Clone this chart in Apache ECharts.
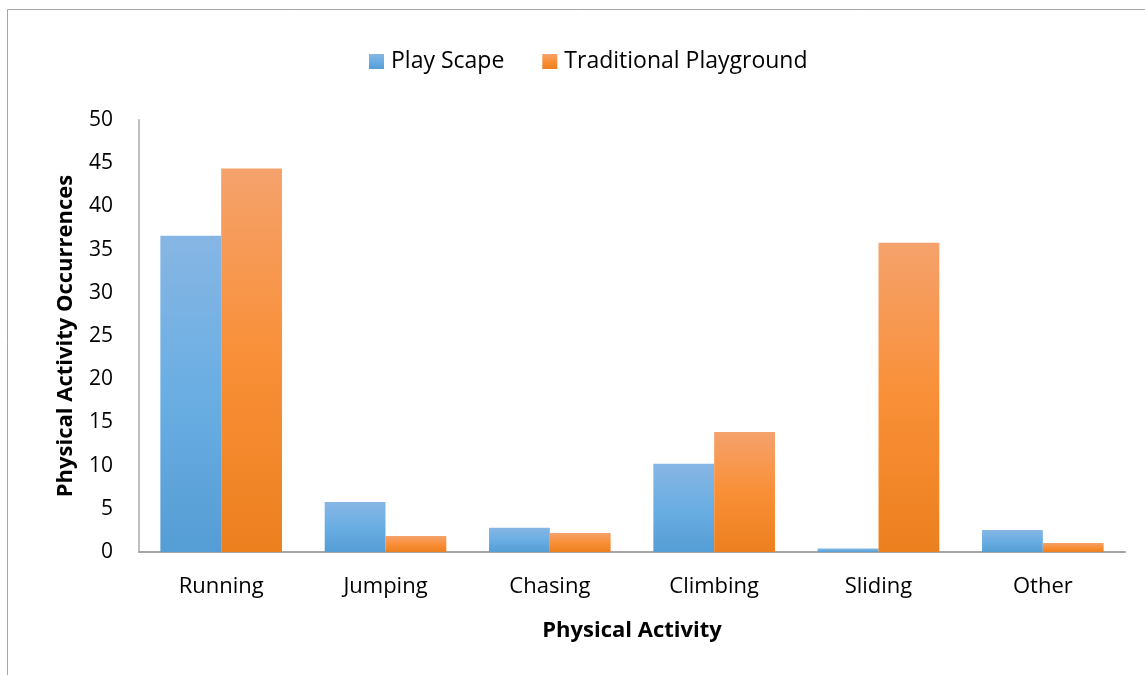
<!DOCTYPE html>
<html>
<head>
<meta charset="utf-8">
<script src="https://cdn.jsdelivr.net/npm/echarts@6/dist/echarts.min.js"></script>
<style>
html,body{margin:0;padding:0;background:#fff;}
#chart{width:1145px;height:675px;}
</style>
</head>
<body>
<div id="chart"></div>
<script>
// data
var activities = ['Running', 'Jumping', 'Chasing', 'Climbing', 'Sliding', 'Other'];
var playScape = [36.6, 5.8, 2.8, 10.2, 0.4, 2.55];
var traditional = [44.4, 1.85, 2.2, 13.9, 35.8, 1.05];
var yTicks = [0, 50, 5];

var font = '"Open Sans", "Liberation Sans", sans-serif';

function grad(top, mid, bottom) {
	return new echarts.graphic.LinearGradient(0, 0, 0, 1, [
		{offset: 0, color: top},
		{offset: 0.5, color: mid},
		{offset: 1, color: bottom}
	]);
}

var chart = echarts.init(document.getElementById('chart'));

var option = {
	backgroundColor: '#fff',
	animation: false,
	graphic: [{
		type: 'rect',
		shape: {x: 7.5, y: 9.5, width: 1200, height: 800},
		style: {fill: 'none', stroke: '#a6a6a6', lineWidth: 1},
		silent: true
	}],
	legend: {
		top: 45,
		left: 364,
		icon: 'rect',
		itemWidth: 15,
		itemHeight: 15,
		itemGap: 38,
		textStyle: {fontFamily: font, fontSize: 23, color: '#000', padding: [0, 0, 0, 2]},
		data: ['Play Scape', 'Traditional Playground']
	},
	grid: {left: 139, right: 20, top: 120, bottom: 123},
	xAxis: {
		type: 'category',
		data: activities,
		name: 'Physical Activity',
		nameLocation: 'middle',
		nameGap: 68,
		nameTextStyle: {fontFamily: font, fontSize: 22, fontWeight: 'bold', color: '#000'},
		axisLine: {lineStyle: {color: '#a6a6a6', width: 2}},
		axisTick: {show: false},
		axisLabel: {fontFamily: font, fontSize: 22, color: '#000', margin: 24}
	},
	yAxis: {
		type: 'value',
		min: yTicks[0],
		max: yTicks[1],
		interval: yTicks[2],
		name: 'Physical Activity Occurrences',
		nameLocation: 'middle',
		nameGap: 62,
		nameTextStyle: {fontFamily: font, fontSize: 22, fontWeight: 'bold', color: '#000'},
		axisLine: {show: true, lineStyle: {color: '#bfbfbf', width: 2}},
		axisTick: {show: false},
		splitLine: {show: false},
		axisLabel: {fontFamily: font, fontSize: 21, color: '#000', margin: 26}
	},
	series: [
		{
			name: 'Play Scape',
			type: 'bar',
			data: playScape,
			barGap: '0%',
			barCategoryGap: '26%',
			itemStyle: {color: grad('#87b6e4', '#6aaee3', '#559dd5')}
		},
		{
			name: 'Traditional Playground',
			type: 'bar',
			data: traditional,
			itemStyle: {color: grad('#f5a26c', '#f98f37', '#ec801f')}
		}
	]
};

chart.setOption(option);
</script>
</body>
</html>
